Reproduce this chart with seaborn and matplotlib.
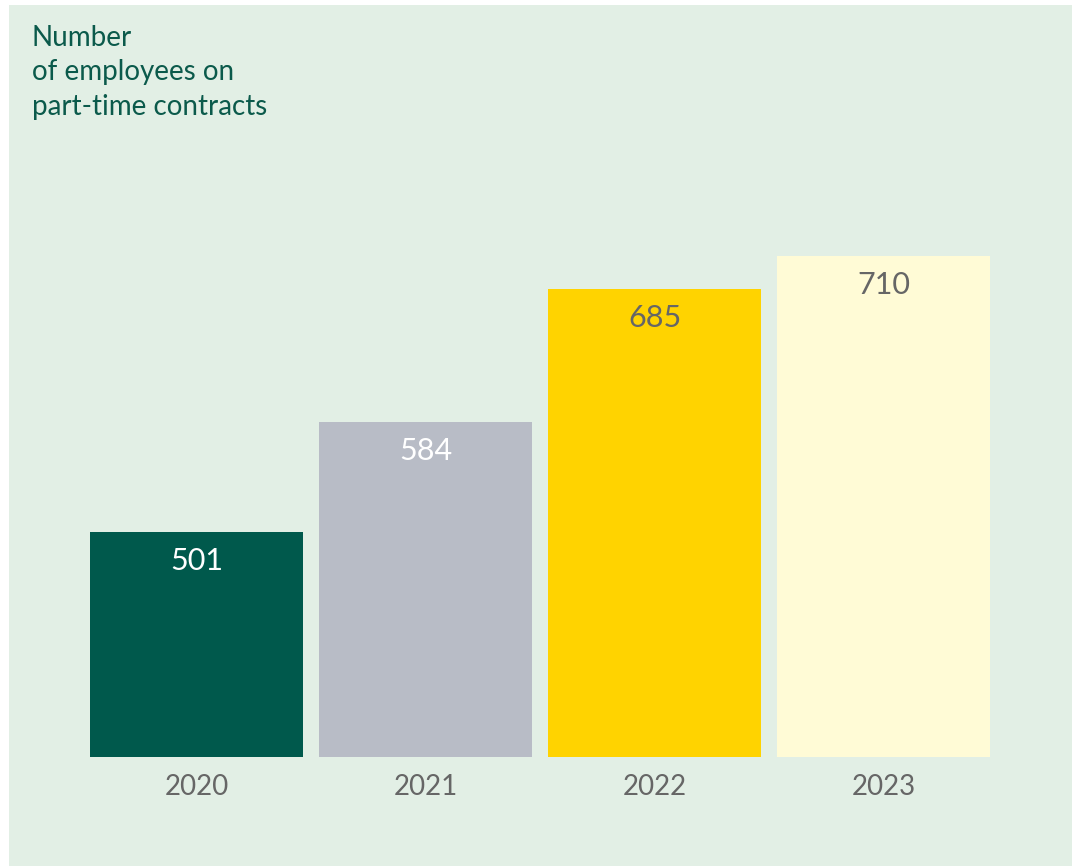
import matplotlib
matplotlib.use("Agg")
import matplotlib.pyplot as plt
from matplotlib.patches import Rectangle
import seaborn as sns
import pandas as pd

years = ["2020", "2021", "2022", "2023"]
employees = [501, 584, 685, 710]
bar_colors = ["#00594C", "#B8BCC6", "#FFD300", "#FFFBD6"]
label_colors = ["#FFFFFF", "#FFFFFF", "#666666", "#666666"]
title_lines = ["Number", "of employees on", "part-time contracts"]

sns.set_theme(style="white")
plt.rcParams["font.family"] = ["Lato", "DejaVu Sans"]

W, H = 1079, 866
fig = plt.figure(figsize=(W / 100, H / 100), dpi=100, facecolor="white")
bg = Rectangle((9 / W, 0), (1072 - 9) / W, 1 - 5 / H,
               transform=fig.transFigure, facecolor="#E2EFE5",
               edgecolor="none", zorder=-10)
fig.add_artist(bg)

ax = fig.add_axes([90 / W, (H - 757) / H, 900 / W, (757 - 256) / H])
ax.set_facecolor("none")
ax.set_zorder(1)

df = pd.DataFrame({"year": years, "value": employees})
sns.barplot(data=df, x="year", y="value", hue="year", palette=bar_colors,
            legend=False, width=0.93, saturation=1, linewidth=0, ax=ax)

ax.set_xlim(-0.465, 3.465)
ax.set_ylim(330, 710)
for s in ax.spines.values():
    s.set_visible(False)
ax.set_yticks([])
ax.set_xlabel("")
ax.set_ylabel("")
ax.tick_params(axis="x", length=0, pad=12, labelsize=20, labelcolor="#666666")

for i, (v, c) in enumerate(zip(employees, label_colors)):
    ax.annotate(str(v), xy=(i, v), xytext=(0, -29), textcoords="offset pixels",
                ha="center", va="center", fontsize=22, color=c)

fig.text(32 / W, 1 - 25 / H, "\n".join(title_lines), ha="left", va="top",
         fontsize=20, color="#0B5A4B", linespacing=1.4)

fig.savefig("out.png", dpi=100, facecolor="white")
